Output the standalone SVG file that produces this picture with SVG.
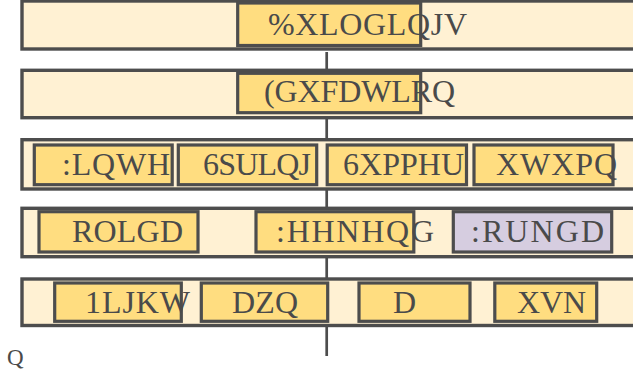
<svg xmlns="http://www.w3.org/2000/svg" width="633" height="374" viewBox="0 0 633 374">
<style>
.row{fill:#fff1d3;stroke:#4d4d4d;stroke-width:3.4}
.box{fill:#ffdd80;stroke:#4d4d4d;stroke-width:3.2}
.lav{fill:#d6cde0;stroke:#4d4d4d;stroke-width:3.2}
.t{font-family:"Liberation Serif","Times New Roman",serif;font-size:32px;fill:#4a4a4a}
.conn{stroke:#4d4d4d;stroke-width:2.7;fill:none}
</style>
<rect width="633" height="374" fill="#ffffff"/>
<g id="connectors">
<line class="conn" x1="326.7" y1="52" x2="326.7" y2="356"/>
</g>
<g id="row1">
<rect class="row" x="22" y="1" width="620" height="48"/>
<g id="buildings">
<rect class="box" x="237.7" y="3" width="183" height="42.5"/>
<text class="t" x="268" y="35" textLength="199">%XLOGLQJV</text>
</g>
</g>
<g id="row2">
<rect class="row" x="22" y="70.3" width="620" height="47.4"/>
<g id="education">
<rect class="box" x="237.7" y="73.3" width="183" height="39.4"/>
<text class="t" x="264" y="101.7" textLength="191">(GXFDWLRQ</text>
</g>
</g>
<g id="row3">
<rect class="row" x="22" y="139.7" width="620" height="49.3"/>
<g id="winter">
<rect class="box" x="34.3" y="145" width="137.9" height="39.7"/>
<text class="t" x="62" y="175" textLength="108">:LQWH</text>
</g>
<g id="spring">
<rect class="box" x="178.3" y="145" width="138.4" height="39.7"/>
<text class="t" x="203" y="175" textLength="108">6SULQJ</text>
</g>
<g id="summer">
<rect class="box" x="327.2" y="145" width="139.3" height="39.7"/>
<text class="t" x="343" y="175" textLength="121">6XPPHU</text>
</g>
<g id="autumn">
<rect class="box" x="474" y="145" width="139" height="39.7"/>
<text class="t" x="496" y="175" textLength="121">XWXPQ</text>
</g>
</g>
<g id="row4">
<rect class="row" x="22" y="208.3" width="620" height="48.4"/>
<g id="holiday">
<rect class="box" x="39" y="211.7" width="159" height="40.3"/>
<text class="t" x="72" y="242" textLength="111">ROLGD</text>
</g>
<g id="weekend">
<rect class="box" x="256" y="211.7" width="157.8" height="40.3"/>
<text class="t" x="276" y="242" textLength="158">:HHNHQG</text>
</g>
<g id="workday">
<rect class="lav" x="453.3" y="211.7" width="158.4" height="40.3"/>
<text class="t" x="471" y="242" textLength="133">:RUNGD</text>
</g>
</g>
<g id="row5">
<rect class="row" x="22" y="279" width="620" height="46.5"/>
<g id="night">
<rect class="box" x="54.7" y="283" width="126.6" height="38.3"/>
<text class="t" x="85" y="313" textLength="105">1LJKW</text>
</g>
<g id="dawn">
<rect class="box" x="201.3" y="283" width="126.4" height="38.3"/>
<text class="t" x="232" y="313" textLength="66">DZQ</text>
</g>
<g id="day">
<rect class="box" x="359" y="283" width="111" height="38.3"/>
<text class="t" x="393" y="313">D</text>
</g>
<g id="dusk">
<rect class="box" x="494.8" y="283" width="101.9" height="38.3"/>
<text class="t" x="517" y="313" textLength="69">XVN</text>
</g>
</g>
<text x="7" y="365" style="font-family:'Liberation Serif','Times New Roman',serif;font-size:23px;fill:#4a4a4a">Q</text>
</svg>
